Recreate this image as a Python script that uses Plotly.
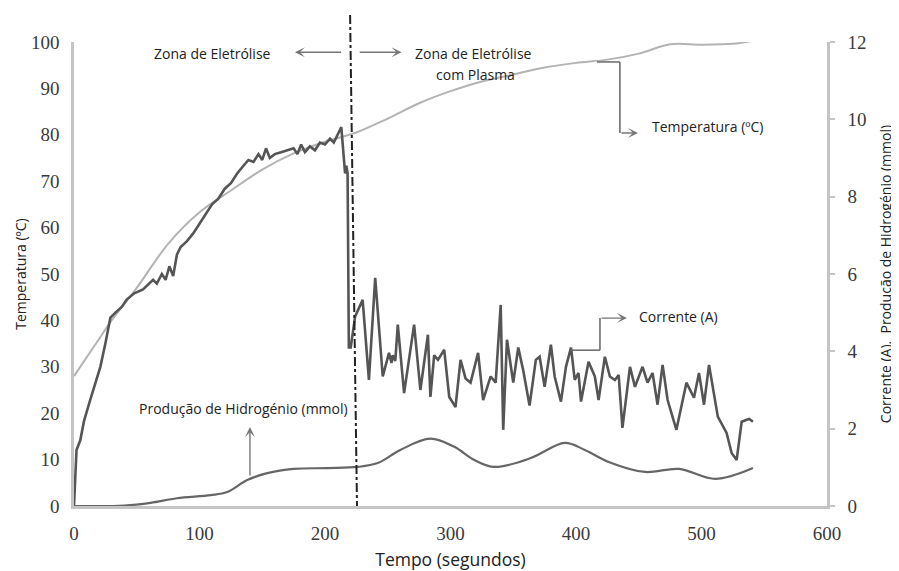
import plotly.graph_objects as go

# ---- data ----
temp_t = [0, 10, 20, 30, 50, 75, 100, 125, 150, 175, 200, 225, 250, 275, 300, 325, 350, 375, 400, 425, 450, 475, 500, 525, 540]
temp_v = [28, 32, 36, 40, 47, 56.5, 63.3, 68, 72.5, 76, 78.5, 80.5, 83.5, 86.8, 89.4, 91.5, 93, 94.5, 95.5, 96.2, 97.5, 99.5, 99.4, 99.6, 100.2]

cur_t = [0, 1, 2, 5, 8, 13, 17, 21, 25, 29, 33, 38, 42, 48, 55, 60, 63, 66, 70, 73, 76, 79, 82, 85, 90, 95,
         100, 106, 110, 115, 120, 125, 130, 135, 139, 143, 147, 150, 153, 156, 160, 165, 170, 175, 178, 181,
         184, 188, 192, 196, 200, 204, 207, 210, 213, 215, 216, 217, 218, 219, 220.5, 224, 230, 235, 240,
         246, 251, 253, 254, 256, 258, 263, 267, 271, 276, 279, 282, 284, 287, 290, 295, 299, 304, 308, 312, 316,
         322, 326, 332, 336, 340, 342, 345, 350, 354, 358, 363, 368, 371, 375, 380, 383, 388, 392, 396, 399,
         402, 404, 410, 415, 418, 423, 427, 431, 434, 437, 443, 447, 453, 457, 461, 465, 469, 473, 480, 488,
         494, 498, 502, 506, 513, 520, 524, 528, 532, 536, 538, 541]
cur_v = [0, 1.0, 1.45, 1.7, 2.2, 2.75, 3.2, 3.6, 4.2, 4.87, 5.0, 5.15, 5.34, 5.5, 5.6, 5.75, 5.85, 5.75, 6.0,
         5.85, 6.2, 5.95, 6.5, 6.7, 6.85, 7.05, 7.3, 7.6, 7.8, 7.95, 8.2, 8.35, 8.6, 8.8, 8.95, 8.9, 9.1, 8.95,
         9.25, 9.0, 9.1, 9.15, 9.2, 9.25, 9.1, 9.35, 9.15, 9.3, 9.2, 9.4, 9.35, 9.5, 9.4, 9.6, 9.8, 9.0, 8.6,
         8.8, 8.6, 4.1, 4.1, 4.9, 5.33, 3.26, 5.9, 3.35, 3.96, 3.7, 3.9, 3.75, 4.69, 2.92, 3.8, 4.69, 3.0, 3.7,
         4.43, 2.82, 3.9, 3.78, 4.04, 2.82, 2.56, 3.78, 3.3, 3.19, 3.96, 2.74, 3.35, 3.19, 5.2, 1.97, 4.3, 3.19,
         4.1, 3.5, 2.6, 3.78, 3.86, 3.08, 4.17, 3.35, 2.7, 3.6, 4.1, 3.26, 3.44, 2.7, 3.73, 3.35, 2.74, 3.86,
         3.35, 3.26, 3.39, 2.02, 3.6, 3.08, 3.6, 3.19, 3.44, 2.62, 3.65, 2.74, 1.97, 3.19, 2.8, 3.44, 2.62,
         3.65, 2.31, 1.89, 1.37, 1.19, 2.18, 2.23, 2.25, 2.18]

h2_t = [0, 40, 61, 82, 109, 122, 138, 154, 175, 202, 226, 242, 260, 284, 303, 319, 335, 364, 391, 407, 426, 455, 482, 511, 541]
h2_v = [0, 0.01, 0.08, 0.2, 0.28, 0.36, 0.67, 0.85, 0.96, 0.98, 1.01, 1.11, 1.45, 1.74, 1.53, 1.19, 1.01, 1.24, 1.63, 1.45, 1.14, 0.88, 0.96, 0.70, 0.98]

x_ticks = [0, 100, 200, 300, 400, 500, 600]
y_ticks = [0, 10, 20, 30, 40, 50, 60, 70, 80, 90, 100]
y2_ticks = [0, 2, 4, 6, 8, 10, 12]

SANS = "Open Sans"
SERIF = "Liberation Serif"
TXT = "#222222"
AX = "#c4c4c4"

fig = go.Figure()
fig.add_trace(go.Scatter(x=temp_t, y=temp_v, mode="lines", line=dict(color="#b3b3b3", width=2, shape="spline"),
                         showlegend=False, hoverinfo="skip"))
fig.add_trace(go.Scatter(x=cur_t, y=cur_v, mode="lines", yaxis="y2", line=dict(color="#555555", width=2.6),
                         showlegend=False, hoverinfo="skip"))
fig.add_trace(go.Scatter(x=h2_t, y=h2_v, mode="lines", yaxis="y2", line=dict(color="#666666", width=2.2, shape="spline"),
                         showlegend=False, hoverinfo="skip"))

BR = dict(color="#666666", width=1.5)
shapes = [
    dict(type="line", xref="x", yref="paper", x0=220, y0=1.058, x1=225.5, y1=0,
         line=dict(color="#222222", width=2, dash="dashdot")),
    dict(type="line", xref="x", yref="y", x0=416.7, y0=95.7, x1=435, y1=95.7, line=BR),
    dict(type="line", xref="x", yref="y", x0=435, y0=95.7, x1=435, y1=80.4, line=BR),
    dict(type="line", xref="x", yref="y2", x0=395.2, y0=4.03, x1=419.1, y1=4.03, line=BR),
    dict(type="line", xref="x", yref="y2", x0=419.1, y0=4.03, x1=419.1, y1=4.86, line=BR),
]

def arrow(x, y, ax, ay, yref="y"):
    return dict(x=x, y=y, ax=ax, ay=ay, xref="x", yref=yref, axref="x", ayref=yref, text="",
                showarrow=True, arrowhead=3, arrowsize=1.2, arrowwidth=1.4, arrowcolor="#777777")

def label(x, y, text, yref="y", xanchor="center"):
    return dict(x=x, y=y, xref="x", yref=yref, text=text, showarrow=False, xanchor=xanchor,
                font=dict(family=SANS, size=14, color=TXT))

annotations = [
    arrow(176, 97.8, 214, 97.8),
    arrow(261, 97.8, 226.5, 97.8),
    arrow(449.4, 80.4, 435, 80.4),
    arrow(440.6, 4.86, 419.1, 4.86, "y2"),
    arrow(140.2, 2.04, 140.2, 0.75, "y2"),
    label(110.4, 97.6, "Zona de Eletrólise"),
    label(318.7, 97.6, "Zona de Eletrólise"),
    label(320, 92.9, "com Plasma"),
    label(459, 81.7, "Temperatura (ºC)", xanchor="left"),
    label(448.6, 4.89, "Corrente (A)", yref="y2", xanchor="left"),
    label(135, 2.51, "Produção de Hidrogénio (mmol)", yref="y2"),
]

tickfont = dict(family=SERIF, size=19, color="#3a3a3a")

fig.update_layout(
    width=899, height=571,
    margin=dict(l=66, r=80, t=34, b=73),
    paper_bgcolor="white", plot_bgcolor="white",
    shapes=shapes, annotations=annotations,
    xaxis=dict(range=[0, 600], tickvals=x_ticks, ticktext=[str(v) for v in x_ticks], showgrid=False,
               zeroline=False, showline=True, linecolor=AX, linewidth=2.5, ticks="", ticklabelstandoff=8,
               tickfont=tickfont,
               title=dict(text="Tempo (segundos)", font=dict(family=SANS, size=17.5, color=TXT), standoff=12)),
    yaxis=dict(range=[0, 100], tickvals=y_ticks, ticktext=[str(v) for v in y_ticks], showgrid=False,
               zeroline=False, showline=True, linecolor=AX, linewidth=2.5, ticks="", ticklabelstandoff=8,
               tickfont=tickfont,
               title=dict(text="Temperatura (ºC)", font=dict(family=SANS, size=14, color=TXT), standoff=2)),
    yaxis2=dict(range=[0, 12], tickvals=y2_ticks, ticktext=[str(v) for v in y2_ticks], overlaying="y", side="right",
                showgrid=False, zeroline=False, showline=True, linecolor=AX, linewidth=2.5,
                ticks="outside", ticklen=5, tickcolor=AX, tickwidth=1.5, ticklabelstandoff=9,
                tickfont=tickfont,
                title=dict(text="Corrente (A),  Produção de Hidrogénio (mmol)",
                           font=dict(family=SANS, size=14, color=TXT), standoff=16)),
)

fig.write_html("out.html")
